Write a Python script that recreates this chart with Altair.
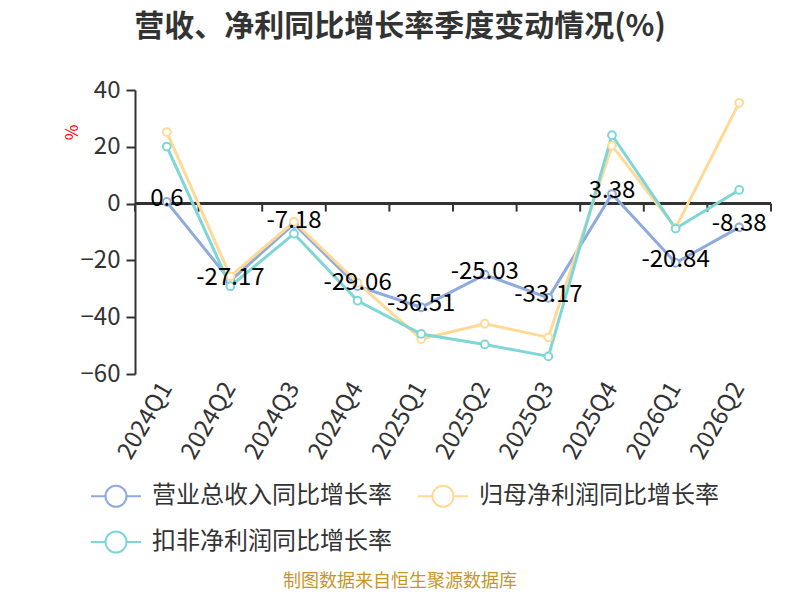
import altair as alt
import pandas as pd

quarters = ["2024Q1", "2024Q2", "2024Q3", "2024Q4", "2025Q1", "2025Q2", "2025Q3", "2025Q4", "2026Q1", "2026Q2"]
revenue = [0.6, -27.17, -7.18, -29.06, -36.51, -25.03, -33.17, 3.38, -20.84, -8.38]
net_profit = [25.2, -25.6, -6.4, -27.9, -47.7, -42.3, -47.1, 20.4, -8.6, 35.5]
deducted = [20.1, -29.1, -10.6, -34.2, -45.9, -49.6, -53.8, 24.1, -8.8, 4.8]

series_names = ["营业总收入同比增长率", "归母净利润同比增长率", "扣非净利润同比增长率"]
series_colors = ["#8faadc", "#ffd996", "#7ed6d6"]
title_text = "营收、净利同比增长率季度变动情况(%)"
source_text = "制图数据来自恒生聚源数据库"

FONT = "Noto Sans CJK SC"

rows = []
for name, vals in zip(series_names, [revenue, net_profit, deducted]):
    for q, v in zip(quarters, vals):
        rows.append({"quarter": q, "value": v, "series": name})
df = pd.DataFrame(rows)
rev_df = pd.DataFrame({"quarter": quarters, "value": revenue,
                       "label": [f"{v:g}" for v in revenue]})
q_df = pd.DataFrame({"quarter": quarters})
last_df = pd.DataFrame({"quarter": quarters[-1:]})

xscale = alt.Scale(type="band", domain=quarters, paddingInner=0, paddingOuter=0)
yscale = alt.Scale(domain=[-60, 40], nice=False, zero=False)
cscale = alt.Scale(domain=series_names, range=series_colors)

x_enc = alt.X("quarter:N", scale=xscale, sort=quarters,
              axis=alt.Axis(title=None, labelAngle=-60, labelFontSize=24, labelColor="#333333",
                            labelFont=FONT, domain=False, ticks=False, grid=False, labelPadding=10))
y_enc = alt.Y("value:Q", scale=yscale,
              axis=alt.Axis(values=[-60, -40, -20, 0, 20, 40], title="%", titleColor="red",
                            titleFontSize=17, titleFontWeight="normal", titleFont=FONT,
                            titleX=-63, titleY=42, titleAngle=270, titleAlign="center",
                            titleBaseline="middle",
                            labelFontSize=24, labelColor="#333333", labelFont=FONT, labelPadding=6,
                            domainColor="#333333", domainWidth=2, tickColor="#333333",
                            tickSize=9, tickWidth=2, gridColor="#cccccc", gridDash=[6, 5],
                            gridWidth=1.2))

legend_path = ("M-1,0L-0.42,0M0.42,0L1,0M0.42,0A0.42,0.42,0,1,1,-0.42,0"
               "A0.42,0.42,0,1,1,0.42,0Z")

lines = alt.Chart(df).mark_line(strokeWidth=3).encode(
    x=x_enc, y=y_enc,
    color=alt.Color("series:N", scale=cscale,
                    legend=alt.Legend(title=None, orient="none", legendX=-45, legendY=380,
                                      direction="horizontal", columns=2,
                                      symbolType=legend_path, symbolSize=2500,
                                      symbolStrokeWidth=2, symbolFillColor="white",
                                      labelFontSize=24, labelFont=FONT, labelColor="#333333",
                                      labelOffset=10, columnPadding=22, rowPadding=5,
                                      labelLimit=400)),
    order=alt.value(0),
)

points = alt.Chart(df).mark_point(filled=False, fill="white", fillOpacity=1, size=60,
                                  strokeWidth=2, opacity=1).encode(
    x=alt.X("quarter:N", scale=xscale, sort=quarters),
    y=alt.Y("value:Q", scale=yscale),
    stroke=alt.Stroke("series:N", scale=alt.Scale(domain=series_names, range=series_colors),
                      legend=None),
)

zero = alt.Chart(q_df).mark_rule(color="#333333", strokeWidth=2).encode(y=alt.datum(0))

ticks = alt.Chart(q_df).mark_rule(color="#333333", strokeWidth=2, y2Offset=8).encode(
    x=alt.X("quarter:N", scale=xscale, sort=quarters, bandPosition=0),
    y=alt.datum(0), y2=alt.datum(0))
ticks_end = alt.Chart(last_df).mark_rule(color="#333333", strokeWidth=2, y2Offset=8).encode(
    x=alt.X("quarter:N", scale=xscale, sort=quarters, bandPosition=1),
    y=alt.datum(0), y2=alt.datum(0))

labels = alt.Chart(rev_df).mark_text(fontSize=24, font=FONT, color="#000000", dy=-3,
                                     baseline="middle", align="center").encode(
    x=alt.X("quarter:N", scale=xscale, sort=quarters),
    y=alt.Y("value:Q", scale=yscale),
    text="label:N")

source = alt.Chart(pd.DataFrame({"t": [source_text]})).mark_text(
    fontSize=18, font=FONT, color="#c8952a", align="center",
    baseline="middle").encode(text="t:N", x=alt.value(265), y=alt.value(492))

chart = alt.layer(zero, ticks, ticks_end, lines, points, labels, source).properties(
    width=636, height=284,
    padding={"left": 127, "top": 82, "right": 21, "bottom": 218},
    autosize=alt.AutoSizeParams(type="none"),
    title=alt.TitleParams(text=title_text, fontSize=30, fontWeight="bold", font=FONT,
                          color="#333333", anchor="middle", frame="group", dx=-53,
                          offset=36),
).configure_view(stroke=None).resolve_scale(color="independent", stroke="independent")

chart.save("out.html", embed_options={"renderer": "svg", "actions": False})
